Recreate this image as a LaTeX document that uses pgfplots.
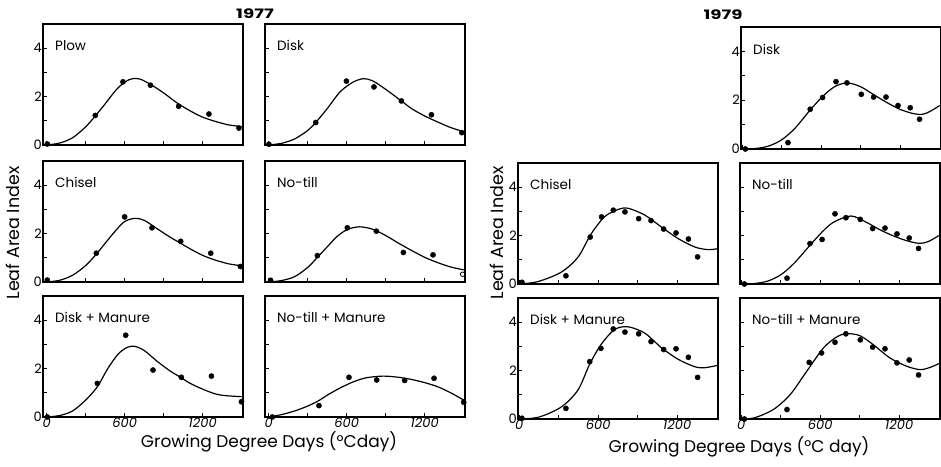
\documentclass[border=0pt]{standalone}
\usepackage{fontspec}
\setmainfont{Poppins}
\usepackage{pgfplots}
\pgfplotsset{compat=1.18}
\newcommand\plab{\fontsize{13.5}{13.5}\selectfont}
\newcommand\tlab{\fontsize{13}{13}\selectfont}
\newcommand\alab{\fontsize{17}{17}\selectfont}
\pgfplotsset{
  panel/.style={scale only axis, width=200pt, height=121pt,
    ymin=0, ymax=5,
    xtick={0,300,600,900,1200}, ytick={0,1,2,3,4},
    xticklabels={}, yticklabels={},
    xtick pos=bottom, ytick pos=left,
    tick align=inside, major tick length=4pt,
    tick style={line width=0.9pt, black},
    axis line style={line width=1.2pt},
    yticklabel style={font=\tlab, inner sep=1pt},
    xticklabel style={font=\tlab\itshape, inner sep=1pt},
    /pgf/number format/assume math mode=true,
    clip=false},
  L/.style={panel, xmin=-28, xmax=1510},
  R/.style={panel, xmin=-10, xmax=1510},
  ylab/.style={yticklabels={0,,2,,4}},
  xlab/.style={xticklabels={0,,600,,1200}},
  pts/.style={only marks, mark=*, mark size=2.6pt, black},
  crv/.style={smooth, line width=1.2pt, black, mark=none},
}
\newcommand\plabel[1]{\node[anchor=west, font=\plab, inner sep=0pt] at (rel axis cs:0.06,0.82) {#1};}
\begin{document}
\begin{tikzpicture}[x=1pt,y=1pt]
\useasboundingbox (0pt,0pt) rectangle (941pt,466pt);
% ---------------- 1977 ----------------
\begin{axis}[L, ylab, at={(43pt,442pt)}, anchor=north west]
\addplot[crv] coordinates {(0,0)(100,0.08)(200,0.3)(300,0.75)(374,1.2)(450,1.7)(530,2.25)(600,2.6)(660,2.74)(720,2.72)(800,2.5)(900,2.15)(1000,1.75)(1100,1.42)(1200,1.15)(1300,0.97)(1400,0.83)(1500,0.76)};
\addplot[pts] coordinates {(5,0.04)(374,1.22)(587,2.61)(798,2.47)(1015,1.6)(1248,1.28)(1479,0.7)};
\plabel{Plow}
\end{axis}
\begin{axis}[L, at={(265pt,442pt)}, anchor=north west]
\addplot[crv] coordinates {(0,0)(100,0.07)(200,0.25)(300,0.6)(362,0.93)(450,1.5)(550,2.2)(650,2.6)(730,2.74)(800,2.65)(900,2.3)(1021,1.82)(1100,1.5)(1200,1.2)(1300,0.95)(1400,0.72)(1500,0.55)};
\addplot[pts] coordinates {(2,0.03)(362,0.93)(598,2.64)(810,2.4)(1021,1.82)(1252,1.25)(1485,0.51)};
\plabel{Disk}
\end{axis}
\begin{axis}[L, ylab, at={(43pt,305pt)}, anchor=north west]
\addplot[crv] coordinates {(0,0)(100,0.07)(200,0.28)(300,0.68)(382,1.15)(450,1.6)(530,2.12)(600,2.5)(677,2.63)(750,2.55)(850,2.2)(950,1.85)(1031,1.6)(1100,1.38)(1200,1.1)(1300,0.9)(1400,0.75)(1500,0.67)};
\addplot[pts] coordinates {(5,0.08)(382,1.19)(600,2.69)(810,2.24)(1031,1.68)(1262,1.19)(1490,0.64)};
\plabel{Chisel}
\end{axis}
\begin{axis}[L, at={(265pt,305pt)}, anchor=north west]
\addplot[crv] coordinates {(0,0)(100,0.06)(200,0.22)(300,0.6)(375,1.02)(450,1.45)(530,1.9)(610,2.18)(700,2.28)(800,2.18)(900,1.92)(1000,1.6)(1100,1.3)(1200,1.02)(1300,0.8)(1400,0.62)(1500,0.5)};
\addplot[pts] coordinates {(15,0.07)(375,1.09)(605,2.24)(828,2.1)(1036,1.22)(1264,1.12)};
\addplot[only marks, mark=o, mark size=2.3pt, black, thick] coordinates {(1492,0.32)};
\plabel{No-till}
\end{axis}
\begin{axis}[L, ylab, xlab, at={(43pt,170pt)}, anchor=north west]
\addplot[crv] coordinates {(0,0)(100,0.06)(200,0.25)(300,0.7)(390,1.25)(470,2.0)(550,2.6)(620,2.88)(677,2.92)(750,2.75)(850,2.3)(950,1.9)(1036,1.62)(1100,1.4)(1200,1.15)(1300,0.95)(1380,0.88)(1500,0.84)};
\addplot[pts] coordinates {(5,0)(390,1.39)(608,3.38)(818,1.94)(1036,1.64)(1267,1.69)(1498,0.63)};
\plabel{Disk + Manure}
\end{axis}
\begin{axis}[L, xlab, at={(265pt,170pt)}, anchor=north west]
\addplot[crv] coordinates {(0,0)(100,0.1)(200,0.25)(300,0.45)(387,0.68)(450,0.9)(550,1.2)(650,1.45)(750,1.62)(880,1.69)(1000,1.64)(1100,1.55)(1200,1.42)(1300,1.25)(1400,1.0)(1500,0.7)};
\addplot[pts] coordinates {(28,0)(387,0.47)(618,1.64)(831,1.53)(1046,1.51)(1272,1.6)(1500,0.61)};
\plabel{No-till + Manure}
\end{axis}
% ---------------- 1979 ----------------
\begin{axis}[R, ylab, at={(741pt,439pt)}, anchor=north west, height=122pt]
\addplot[crv] coordinates {(0,0)(100,0.02)(200,0.12)(300,0.38)(400,0.85)(516,1.6)(610,2.15)(700,2.55)(795,2.71)(900,2.55)(1000,2.22)(1100,1.9)(1200,1.62)(1300,1.45)(1370,1.42)(1430,1.55)(1500,1.78)};
\addplot[pts] coordinates {(23,0)(347,0.26)(516,1.63)(610,2.11)(712,2.76)(795,2.71)(904,2.24)(998,2.13)(1092,2.13)(1183,1.78)(1276,1.69)(1347,1.22)};
\plabel{Disk}
\end{axis}
\begin{axis}[R, ylab, at={(518pt,303pt)}, anchor=north west]
\addplot[crv] coordinates {(0,0)(142,0.1)(319,0.49)(446,1.11)(547,2.08)(648,2.78)(750,3.08)(826,3.13)(953,2.85)(1079,2.36)(1206,1.88)(1333,1.53)(1434,1.42)(1510,1.46)};
\addplot[pts] coordinates {(20,0.07)(354,0.34)(539,1.94)(625,2.77)(714,3.05)(803,2.98)(907,2.7)(1001,2.62)(1097,2.27)(1191,2.11)(1285,1.86)(1355,1.12)};
\plabel{Chisel}
\end{axis}
\begin{axis}[R, at={(740pt,303pt)}, anchor=north west]
\addplot[crv] coordinates {(0,0)(100,0.02)(200,0.12)(300,0.38)(400,0.85)(522,1.6)(614,2.15)(700,2.55)(834,2.81)(950,2.55)(1050,2.25)(1150,2.0)(1250,1.8)(1350,1.68)(1420,1.75)(1500,2.0)};
\addplot[pts] coordinates {(23,0)(347,0.24)(522,1.67)(614,1.84)(712,2.9)(795,2.74)(904,2.67)(998,2.29)(1092,2.31)(1183,2.07)(1276,1.9)(1347,1.47)};
\plabel{No-till}
\end{axis}
\begin{axis}[R, ylab, xlab, at={(518pt,168pt)}, anchor=north west]
\addplot[crv] coordinates {(0,0)(150,0.08)(320,0.5)(446,1.2)(535,2.27)(623,3.09)(725,3.7)(826,3.81)(953,3.55)(1079,2.95)(1206,2.47)(1333,2.16)(1410,2.12)(1510,2.22)};
\addplot[pts] coordinates {(20,0.03)(354,0.44)(535,2.37)(620,2.92)(714,3.72)(803,3.59)(907,3.52)(1001,3.2)(1097,2.87)(1191,2.9)(1285,2.55)(1355,1.72)};
\plabel{Disk + Manure}
\end{axis}
\begin{axis}[R, xlab, at={(740pt,168pt)}, anchor=north west]
\addplot[crv] coordinates {(0,0)(100,0.05)(243,0.39)(370,1.0)(497,1.97)(623,2.93)(725,3.39)(801,3.53)(902,3.44)(1003,3.07)(1130,2.52)(1257,2.18)(1358,2.04)(1434,2.13)(1510,2.31)};
\addplot[pts] coordinates {(23,0)(347,0.39)(516,2.34)(610,2.73)(712,3.17)(795,3.52)(904,3.27)(998,2.97)(1092,2.9)(1183,2.32)(1276,2.44)(1347,1.82)};
\plabel{No-till + Manure}
\end{axis}
% ---------------- titles and labels ----------------
\node[font=\fontsize{13}{13}\selectfont\bfseries, xscale=1.4] at (255pt,452pt) {1977};
\node[font=\fontsize{13}{13}\selectfont\bfseries, xscale=1.4] at (723pt,451pt) {1979};
\node[font=\fontsize{17.5}{17.5}\selectfont, rotate=90] at (13pt,233pt) {Leaf Area Index};
\node[font=\fontsize{17.5}{17.5}\selectfont, rotate=90] at (497pt,233pt) {Leaf Area Index};
\node[font=\alab, anchor=base] at (269pt,19pt) {Growing Degree Days (°Cday)};
\node[font=\alab, anchor=base] at (739pt,14pt) {Growing Degree Days (°C day)};
\end{tikzpicture}
\end{document}
